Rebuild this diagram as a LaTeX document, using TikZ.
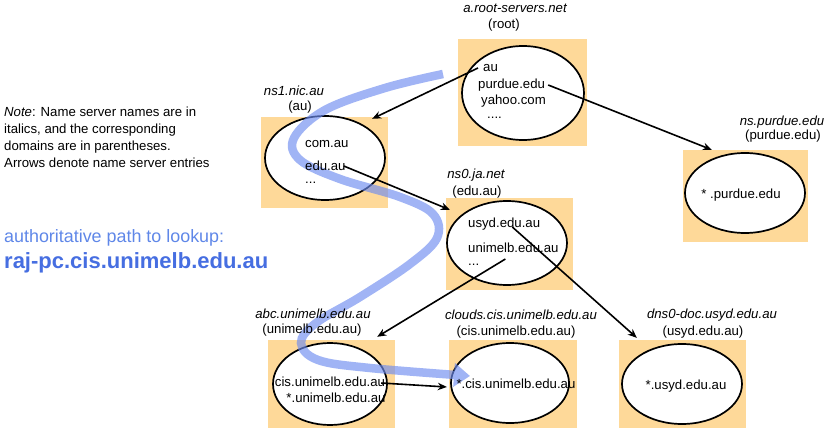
\documentclass[tikz,border=0pt]{standalone}
\usepackage{fontspec}
\setmainfont{Liberation Sans}
\usetikzlibrary{shapes.geometric,arrows.meta}
\definecolor{boxfill}{RGB}{254,217,153}
\definecolor{pathblue}{RGB}{110,140,240}
\definecolor{titleblue}{RGB}{95,135,232}
\definecolor{bigblue}{RGB}{70,110,225}
\begin{document}
\begin{tikzpicture}[x=1pt,y=-1pt,
  box/.style={rectangle, fill=boxfill, draw=none, inner sep=0pt},
  ell/.style={ellipse, draw, line width=1.7pt, fill=white, inner sep=0pt},
  entry/.style={font=\fontsize{13.2}{15}\selectfont, inner sep=0pt, anchor=west},
  centry/.style={font=\fontsize{13.2}{15}\selectfont, inner sep=0pt},
  lbl/.style={font=\fontsize{13.2}{15}\selectfont\itshape, inner sep=0pt},
  dom/.style={font=\fontsize{13.2}{15}\selectfont, inner sep=0pt},
  ref/.style={-{Stealth[length=9pt,width=7.5pt]}, line width=1.6pt}]
\useasboundingbox (0,0) rectangle (839,433);

% boxes
\node[box, minimum width=129pt, minimum height=107pt] (rootbox) at (522.5,92.5) {};
\node[box, minimum width=127pt, minimum height=91pt] (ns1box) at (324.5,162.5) {};
\node[box, minimum width=127pt, minimum height=92pt] (ns0box) at (509.5,244) {};
\node[box, minimum width=125pt, minimum height=92pt] (purbox) at (745.5,196) {};
\node[box, minimum width=127pt, minimum height=88pt] (abcbox) at (331.5,384) {};
\node[box, minimum width=128pt, minimum height=88pt] (cldbox) at (513,384) {};
\node[box, minimum width=127pt, minimum height=88pt] (dnsbox) at (682.5,384) {};

% ellipses
\node[ell, minimum width=122pt, minimum height=94pt] (rootell) at (523,93) {};
\node[ell, minimum width=120pt, minimum height=84pt] (ns1ell) at (325,158) {};
\node[ell, minimum width=120pt, minimum height=84pt] (ns0ell) at (507,243) {};
\node[ell, minimum width=120pt, minimum height=80pt] (purell) at (745,193) {};
\node[ell, minimum width=114pt, minimum height=82pt] (abcell) at (330,384) {};
\node[ell, minimum width=118pt, minimum height=80pt] (cldell) at (510,383) {};
\node[ell, minimum width=120pt, minimum height=80pt] (dnsell) at (682,384) {};

% authoritative path
\coordinate (pstart) at (443,74);
\coordinate (pend) at (470,376);
\begin{scope}[transparency group, opacity=0.65]
\draw[pathblue, line width=8.5pt, -{Triangle[length=16pt,width=23pt]}]
  plot[smooth, tension=0.6] coordinates {(pstart) (385,88) (325,110) (294,138) (300,160) (340,179) (400,197) (433,214) (437,238) (410,264) (360,297) (316,323) (301,343) (318,360) (370,368) (pend)};
\end{scope}

% entries
\node[entry] (au) at (483,68) {au};
\node[entry] (pur) at (478,85) {purdue.edu};
\node[entry] (yah) at (481,101) {yahoo.com};
\node[entry, anchor=base west, text height=2pt, text depth=0pt] (rdots) at (487,119) {....};

\node[entry] (comau) at (305,144) {com.au};
\node[entry] (eduau) at (305,166) {edu.au};
\node[entry] (ns1dots) at (305,183) {...};

\node[entry] (usyd) at (468,224) {usyd.edu.au};
\node[entry] (unim) at (468,248) {unimelb.edu.au};
\node[entry] (ns0dots) at (468,265) {...};

\node[centry] (purstar) at (741,195) {* .purdue.edu};
\node[centry] (cisent) at (330,382) {cis.unimelb.edu.au};
\node[centry] (unistar) at (336,398) {*.unimelb.edu.au};
\node[centry] (cldstar) at (516,384) {*.cis.unimelb.edu.au};
\node[centry] (usydstar) at (686,386) {*.usyd.edu.au};

% labels
\node[lbl] (rootname) at (515,8) {a.root-servers.net};
\node[dom] (rootdom) at (504,25) {(root)};
\node[lbl] (ns1name) at (294,91) {ns1.nic.au};
\node[dom] (ns1dom) at (300,107) {(au)};
\node[lbl] (ns0name) at (476,175) {ns0.ja.net};
\node[dom] (ns0dom) at (477,192) {(edu.au)};
\node[lbl] (purname) at (782,122) {ns.purdue.edu};
\node[dom] (purdom) at (783,136) {(purdue.edu)};
\node[lbl] (abcname) at (313,314) {abc.unimelb.edu.au};
\node[dom] (abcdom) at (312,330) {(unimelb.edu.au)};
\node[lbl] (cldname) at (521,315) {clouds.cis.unimelb.edu.au};
\node[dom] (clddom) at (516,332) {(cis.unimelb.edu.au)};
\node[lbl] (dnsname) at (712,315) {dns0-doc.usyd.edu.au};
\node[dom] (dnsdom) at (703,332) {(usyd.edu.au)};

% name server entry arrows
\draw[ref] ([xshift=-5pt]au.west) -- ([xshift=-16pt,yshift=-2pt]ns1box.north east);
\draw[ref] ([xshift=3pt]pur.east) -- ([xshift=29pt]purbox.north west);
\draw[ref] ([xshift=-2pt]eduau.east) -- ([xshift=4pt,yshift=-12pt]ns0box.north west);
\draw[ref] ([xshift=-28pt,yshift=-3pt]usyd.east) -- ([xshift=18pt,yshift=2pt]dnsbox.north west);
\draw[ref] ([xshift=-8pt,yshift=-6pt]unim.south) -- ([xshift=-18pt,yshift=3pt]abcbox.north east);
\draw[ref] ([xshift=-4pt,yshift=-1pt]cisent.east) -- ([xshift=-2pt,yshift=-3pt]cldbox.west);

% note
\node[anchor=north west, align=left, inner sep=0pt, font=\fontsize{13.2}{17}\selectfont] (note) at (4,107)
  {\textit{Note}: Name server names are in\\italics, and the corresponding\\domains are in parentheses.\\Arrows denote name server entries};
\node[anchor=west, inner sep=0pt, text=titleblue, font=\fontsize{17.9}{20}\selectfont] (pathtitle) at (4,238) {authoritative path to lookup:};
\node[anchor=west, inner sep=0pt, text=bigblue, font=\fontsize{22}{24}\selectfont\bfseries] (pathname) at (4,263) {raj-pc.cis.unimelb.edu.au};
\end{tikzpicture}
\end{document}
